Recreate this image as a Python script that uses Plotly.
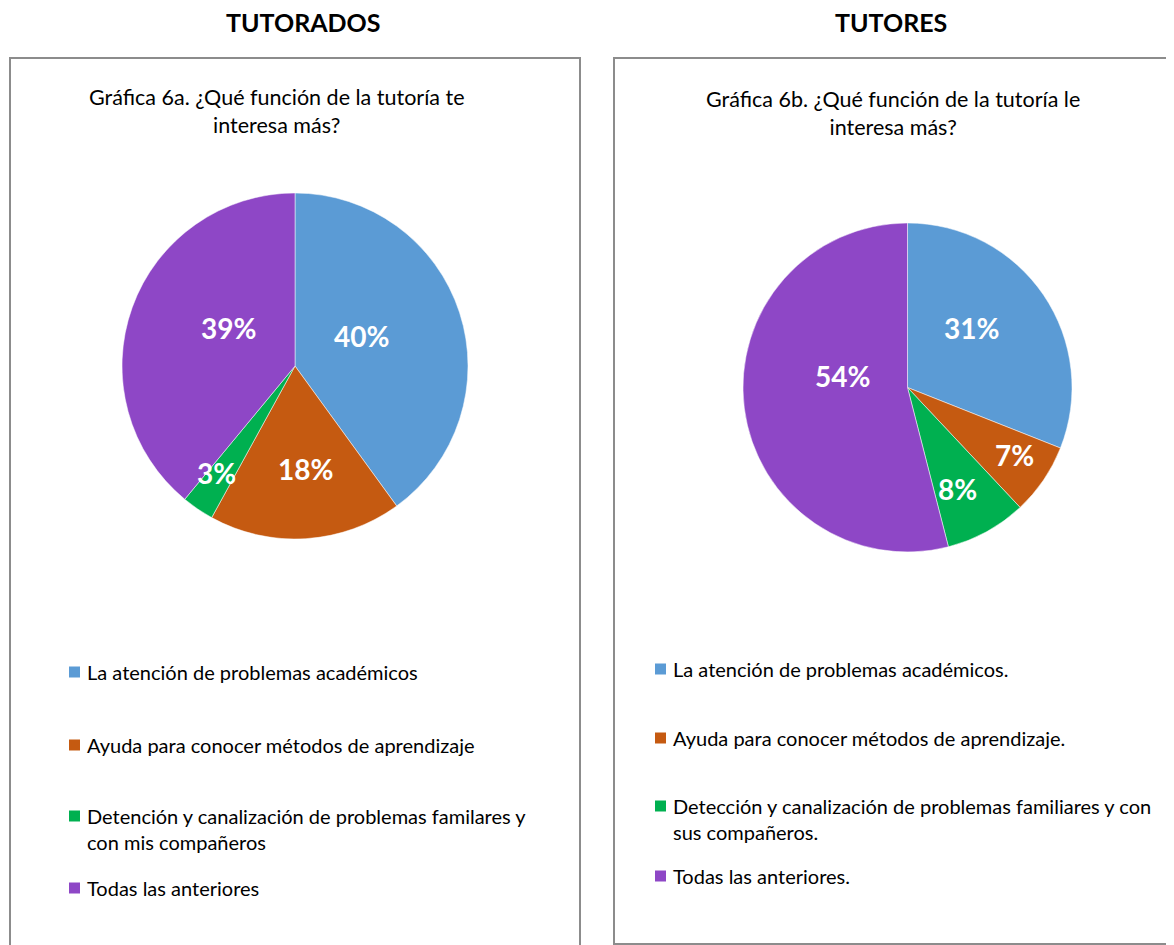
import math
import plotly.graph_objects as go

W, H = 1174, 945
OFF = 8  # default page body margin

# ---- data ----
labels_a = ["La atención de problemas académicos",
            "Ayuda para conocer métodos de aprendizaje",
            "Detención y canalización de problemas familares y<br>con mis compañeros",
            "Todas las anteriores"]
values_a = [40, 18, 3, 39]

labels_b = ["La atención de problemas académicos.",
            "Ayuda para conocer métodos de aprendizaje.",
            "Detección y canalización de problemas familiares y con<br>sus compañeros.",
            "Todas las anteriores."]
values_b = [31, 7, 8, 54]

header_a = "TUTORADOS"
header_b = "TUTORES"
title_a = "Gráfica 6a. ¿Qué función de la tutoría te<br>interesa más?"
title_b = "Gráfica 6b. ¿Qué función de la tutoría le<br>interesa más?"

colors = ["#5B9BD5", "#C55A11", "#00B050", "#8E47C6"]

# ---- layout config (pixels in the reference frame) ----
FONT = "Lato"
pie_a = dict(cx=295, cy=366, r=173)
pie_b = dict(cx=907.5, cy=387.5, r=164.5)
# label placement relative to slice middle: radial fraction, angle shift (deg)
label_frac_a = [0.42, 0.60, 0.77, 0.445]
label_shift_a = [-6, -2, 2, 10]
label_frac_b = [0.53, 0.77, 0.69, 0.40]
label_shift_b = [-9, -2, 2.6, 17]
legend_a = dict(x=69, ys=[672, 745, 816, 888])
legend_b = dict(x=655, ys=[669, 738, 806, 876])
LEG_SIZE = 20
TITLE_SIZE = 21.5

FW, FH = W - OFF, H - OFF


def px(x):
    return (x - OFF) / FW


def py(y):
    return 1 - (y - OFF) / FH


def domain(p):
    return dict(x=[px(p["cx"] - p["r"]), px(p["cx"] + p["r"])],
                y=[py(p["cy"] + p["r"]), py(p["cy"] - p["r"])])


fig = go.Figure()
for labels, values, p in [(labels_a, values_a, pie_a), (labels_b, values_b, pie_b)]:
    fig.add_trace(go.Pie(
        labels=labels, values=values, sort=False, direction="clockwise",
        rotation=0, domain=domain(p),
        marker=dict(colors=colors, line=dict(color="white", width=0.5)),
        textinfo="none", hoverinfo="label+percent", showlegend=False,
    ))

annotations = []
shapes = []

# percentage labels computed from data
for values, p, fracs, shifts in [(values_a, pie_a, label_frac_a, label_shift_a),
                                  (values_b, pie_b, label_frac_b, label_shift_b)]:
    total = sum(values)
    cum = 0
    for v, f, s in zip(values, fracs, shifts):
        mid = (cum + v / 2) / total * 2 * math.pi + math.radians(s)
        cum += v
        x = p["cx"] + f * p["r"] * math.sin(mid)
        y = p["cy"] - f * p["r"] * math.cos(mid)
        annotations.append(dict(
            x=px(x), y=py(y), xref="paper", yref="paper",
            text=f"<b>{round(v / total * 100)}%</b>", showarrow=False,
            font=dict(family=FONT, size=28, color="white"),
            xanchor="center", yanchor="middle"))

# headers and titles
for text, x, y in [(header_a, 303, 22), (header_b, 891, 22)]:
    annotations.append(dict(x=px(x), y=py(y), xref="paper", yref="paper",
                            text=f"<b>{text}</b>", showarrow=False,
                            font=dict(family=FONT, size=25, color="black"),
                            xanchor="center", yanchor="middle"))
for text, x, y in [(title_a, 277, 111), (title_b, 893, 113)]:
    annotations.append(dict(x=px(x), y=py(y), xref="paper", yref="paper",
                            text=text, showarrow=False,
                            font=dict(family=FONT, size=TITLE_SIZE, color="black"),
                            xanchor="center", yanchor="middle"))

# legends
for labels, lg in [(labels_a, legend_a), (labels_b, legend_b)]:
    for lab, col, y in zip(labels, colors, lg["ys"]):
        shapes.append(dict(type="rect", xref="paper", yref="paper",
                           x0=px(lg["x"]), x1=px(lg["x"] + 11),
                           y0=py(y + 5.5), y1=py(y - 5.5),
                           fillcolor=col, line=dict(width=0)))
        annotations.append(dict(x=px(lg["x"] + 16), y=py(y - LEG_SIZE * 0.72), xref="paper", yref="paper",
                                text=lab, showarrow=False, align="left",
                                font=dict(family=FONT, size=LEG_SIZE, color="black"),
                                xanchor="left", yanchor="top"))

# panel borders
shapes.append(dict(type="rect", xref="paper", yref="paper",
                   x0=px(10), x1=px(580), y0=py(960), y1=py(58),
                   line=dict(color="#8c8c8c", width=2), fillcolor="rgba(0,0,0,0)"))
shapes.append(dict(type="rect", xref="paper", yref="paper",
                   x0=px(614), x1=px(1190), y0=py(944), y1=py(58),
                   line=dict(color="#8c8c8c", width=2), fillcolor="rgba(0,0,0,0)"))

fig.update_layout(width=FW, height=FH, margin=dict(l=0, r=0, t=0, b=0),
                  paper_bgcolor="white", plot_bgcolor="white",
                  annotations=annotations, shapes=shapes,
                  font=dict(family=FONT))

fig.write_html("out.html")
